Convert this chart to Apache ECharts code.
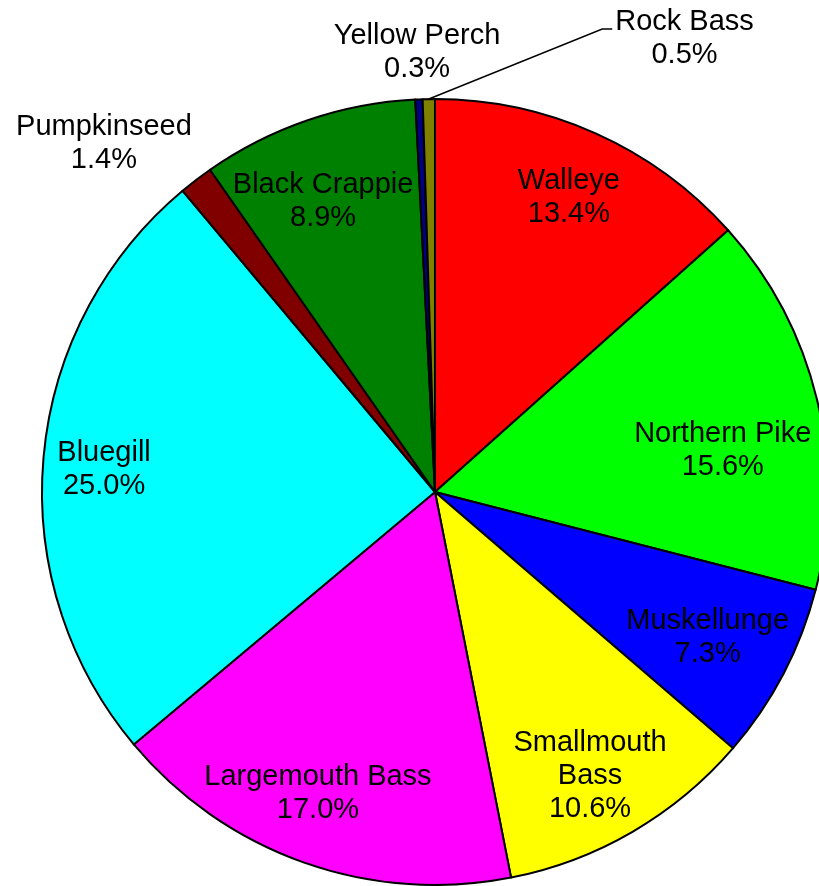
<!DOCTYPE html>
<html>
<head>
<meta charset="utf-8">
<style>
  html, body { margin: 0; padding: 0; background: #fff; }
  #chart { width: 819px; height: 886px; }
</style>
<script src="https://cdn.jsdelivr.net/npm/echarts@6/dist/echarts.min.js"></script>
</head>
<body>
<div id="chart"></div>
<script>
// Species composition of the catch (percent), clockwise from 12 o'clock
const species = ['Walleye', 'Northern Pike', 'Muskellunge', 'Smallmouth Bass', 'Largemouth Bass',
                 'Bluegill', 'Pumpkinseed', 'Black Crappie', 'Yellow Perch', 'Rock Bass'];
const percents = [13.4, 15.6, 7.3, 10.6, 17.0, 25.0, 1.4, 8.9, 0.3, 0.5];
const sliceColors = ['#ff0000', '#00ff00', '#0000ff', '#ffff00', '#ff00ff',
                     '#00ffff', '#800000', '#008000', '#000080', '#808000'];

// Pie geometry
const CX = 435, CY = 492, R = 393;

// Label placement: distance from centre (fraction of radius) and turn (deg) off the slice bisector
const labelPlacement = {
  'Walleye':         { r: 0.824, turn: 0.3 },
  'Northern Pike':   { r: 0.740, turn: 5.4 },
  'Muskellunge':     { r: 0.786, turn: 0.5 },
  'Smallmouth Bass': { r: 0.823, turn: 1.6 },
  'Largemouth Bass': { r: 0.822, turn: 1.8 },
  'Bluegill':        { r: 0.844, turn: -1.2 },
  'Pumpkinseed':     { r: 1.223, turn: -6.1 },
  'Black Crappie':   { r: 0.791, turn: -2.2 },
  'Yellow Perch':    { r: 1.118, turn: 0 },
  'Rock Bass':       { r: 1.318, turn: 29.7 }
};
const wrapped = { 'Smallmouth Bass': 'Smallmouth\nBass' };
const leaderLabels = ['Rock Bass'];

const total = percents.reduce((a, b) => a + b, 0);
const midAngles = [];
let acc = 0;
percents.forEach(v => { midAngles.push((acc + v / 2) / total * 360); acc += v; });

function polar(deg, dist) {
  const a = deg * Math.PI / 180;
  return [CX + dist * Math.sin(a), CY - dist * Math.cos(a)];
}

const chart = echarts.init(document.getElementById('chart'), null, { renderer: 'canvas' });

const data = species.map((name, i) => {
  const hasLeader = leaderLabels.indexOf(name) >= 0;
  return {
    name: name,
    value: percents[i],
    itemStyle: { color: sliceColors[i] },
    label: { position: hasLeader ? 'outside' : 'inside' },
    labelLine: { show: hasLeader }
  };
});

chart.setOption({
  backgroundColor: '#ffffff',
  animation: false,
  series: [{
    type: 'pie',
    center: [CX, CY],
    radius: R,
    startAngle: 90,
    clockwise: true,
    avoidLabelOverlap: false,
    data: data,
    itemStyle: { borderColor: '#000', borderWidth: 2 },
    label: {
      show: true,
      color: '#000',
      fontFamily: 'Liberation Sans, Arial, sans-serif',
      fontSize: 29,
      lineHeight: 33,
      align: 'center',
      formatter: p => (wrapped[p.name] || p.name) + '\n' + p.value.toFixed(1) + '%'
    },
    labelLine: {
      show: false,
      lineStyle: { color: '#000', width: 1.5 }
    },
    emphasis: { disabled: true },
    labelLayout: function (p) {
      const i = p.dataIndex;
      const name = species[i];
      const pl = labelPlacement[name];
      const pos = polar(midAngles[i] + pl.turn, pl.r * R);
      const out = { x: pos[0], y: pos[1], align: 'center', verticalAlign: 'middle' };
      if (leaderLabels.indexOf(name) >= 0) {
        const start = polar(midAngles[i], R);
        const halfW = p.labelRect.width / 2;
        const end = [pos[0] - halfW - 3, pos[1] - 9];
        const bend = [end[0] - 10, end[1]];
        out.labelLinePoints = [start, bend, end];
      }
      return out;
    }
  }]
});
</script>
</body>
</html>
